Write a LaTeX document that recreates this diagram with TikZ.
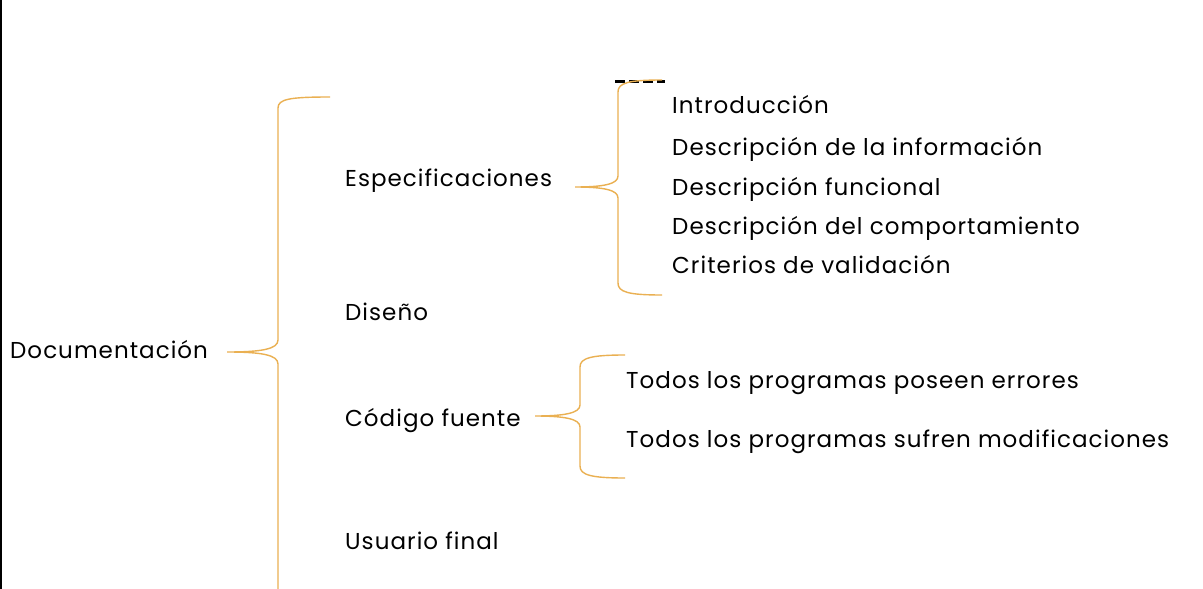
\documentclass[tikz,border=0pt]{standalone}
\usepackage{fontspec}
\setmainfont{Poppins}[LetterSpace=4.5]
\definecolor{bracecol}{RGB}{234,176,82}
\begin{document}
\begin{tikzpicture}[
    x=1pt, y=-1pt,
    item/.style={font=\fontsize{23}{27}\selectfont, anchor=base west, inner sep=0pt},
    brace/.style={draw=bracecol, line width=1.4pt}
]
    \useasboundingbox (0,0) rectangle (1203,589);
    \clip (0,0) rectangle (1203,589);
    \fill[white] (0,0) rectangle (1203,589);

    % Left edge
    \draw[line width=2pt] (1,0) -- (1,589);

    % Root
    \node[item] (doc) at (10,358) {Documentación};

    % First level
    \node[item] (espec) at (345,186) {Especificaciones};
    \node[item] (diseno) at (345,320) {Diseño};
    \node[item] (codigo) at (345,426) {Código fuente};
    \node[item] (usuario) at (345,549) {Usuario final};

    % Especificaciones
    \node[item] (intro) at (672,113) {Introducción};
    \node[item] (descinfo) at (672,155) {Descripción de la información};
    \node[item] (descfunc) at (672,195) {Descripción funcional};
    \node[item] (desccomp) at (672,234) {Descripción del comportamiento};
    \node[item] (criterios) at (672,273) {Criterios de validación};

    % Codigo fuente
    \node[item] (errores) at (626,388) {Todos los programas poseen errores};
    \node[item] (modif) at (626,447) {Todos los programas sufren modificaciones};

    % Main brace
    \coordinate (doctip) at (227,352);
    \draw[brace] (330,97) .. controls (290,97) and (278,99) .. (278,108)
        -- (278,340) .. controls (278,349) and (262,352) .. (doctip)
        .. controls (262,352) and (278,355) .. (278,364)
        -- (278,596) .. controls (278,605) and (290,607) .. (330,607);

    % Especificaciones brace
    \draw[line width=3pt, dash pattern=on 10pt off 4pt] (615,81) -- (665,81);
    \coordinate (espectip) at (575,187);
    \draw[brace] (662,80) .. controls (628,80) and (618,83) .. (618,92)
        -- (618,176) .. controls (618,184) and (604,187) .. (espectip)
        .. controls (604,187) and (618,190) .. (618,198)
        -- (618,283) .. controls (618,292) and (628,295) .. (662,295);

    % Codigo brace
    \coordinate (codtip) at (535,416);
    \draw[brace] (625,355) .. controls (591,355) and (580,358) .. (580,367)
        -- (580,405) .. controls (580,413) and (565,416) .. (codtip)
        .. controls (565,416) and (580,419) .. (580,427)
        -- (580,466) .. controls (580,475) and (591,478) .. (625,478);
\end{tikzpicture}
\end{document}
